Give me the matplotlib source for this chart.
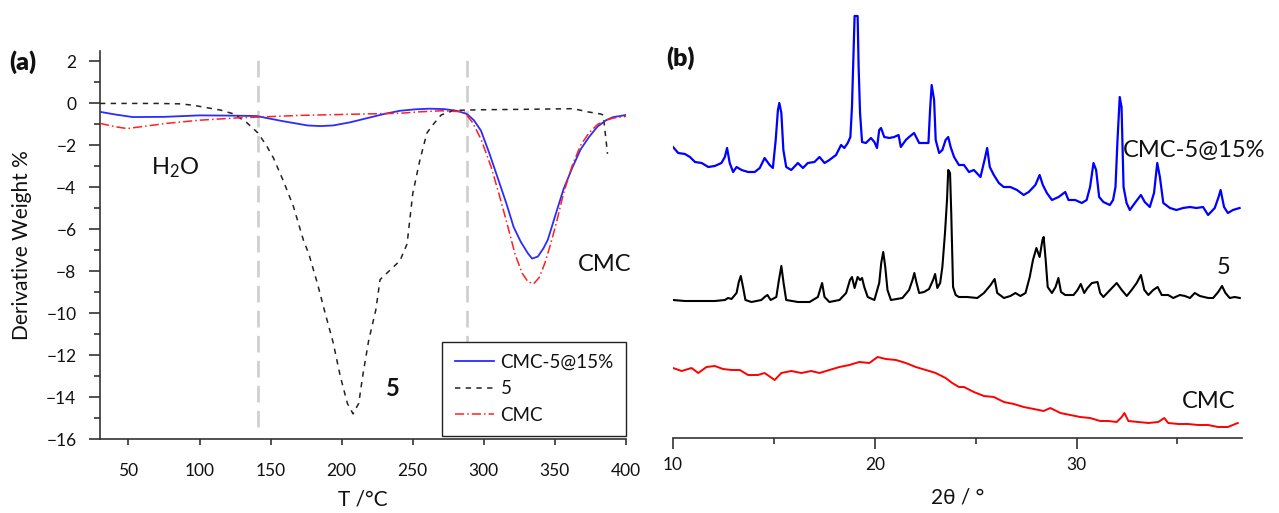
import matplotlib
matplotlib.use("Agg")
import matplotlib.pyplot as plt

plt.rcParams["font.family"] = ["Lato", "DejaVu Sans"]
plt.rcParams["mathtext.default"] = "regular"

############################
# Data
############################

# (a) DTG curves, T in degC, derivative weight in %
t_blue = [30, 40, 53, 75, 100, 120, 140, 159, 176, 185, 194, 206, 218, 230, 241,
          252, 262, 272, 281, 288, 293, 298, 304, 310, 316, 321, 326, 331, 334,
          338, 342, 345, 350, 356, 362, 368, 374, 380, 386, 391, 396, 400]
dtg_blue = [-0.40, -0.52, -0.65, -0.64, -0.57, -0.58, -0.60, -0.85, -1.05, -1.08,
            -1.05, -0.90, -0.70, -0.50, -0.35, -0.28, -0.25, -0.27, -0.35, -0.50,
            -0.80, -1.30, -2.4, -3.6, -4.8, -5.9, -6.6, -7.15, -7.4, -7.3, -6.9,
            -6.5, -5.4, -4.1, -3.1, -2.2, -1.6, -1.1, -0.8, -0.65, -0.6, -0.55]

t_black = [30, 50, 70, 86, 95, 105, 115, 124, 133, 141, 147, 152, 159, 166, 173,
           177, 183, 188, 194, 199, 204, 208, 212, 215, 219, 224, 227, 234, 241,
           246, 250, 255, 260, 265, 270, 279, 300, 330, 363, 373, 382, 384, 387]
dtg_black = [0, 0, 0, -0.02, -0.08, -0.2, -0.32, -0.5, -0.9, -1.4, -2.0, -2.6, -3.7,
             -4.9, -6.5, -7.2, -8.6, -9.9, -11.4, -13.0, -14.3, -14.8, -14.3, -12.9,
             -11.3, -9.85, -8.4, -7.95, -7.5, -6.7, -4.3, -2.7, -1.4, -0.95, -0.55,
             -0.33, -0.3, -0.28, -0.25, -0.4, -0.5, -0.55, -2.4]

t_red = [30, 40, 49, 60, 77, 100, 124, 141, 171, 218, 241, 255, 270, 286, 292, 298,
         305, 311, 317, 322, 327, 331, 335, 339, 343, 347, 351, 356, 362, 368, 374,
         380, 386, 391, 396, 400]
dtg_red = [-0.95, -1.1, -1.2, -1.1, -0.95, -0.8, -0.7, -0.65, -0.57, -0.5, -0.47,
           -0.4, -0.35, -0.4, -0.9, -1.7, -3.0, -4.4, -5.9, -7.2, -8.1, -8.5, -8.6,
           -8.3, -7.6, -6.7, -5.7, -4.3, -3.0, -2.0, -1.4, -1.0, -0.8, -0.7, -0.65, -0.62]

t_marks = [141, 288]

# (b) XRD patterns, 2theta in deg, intensity in a.u. (already offset)
tt_blue = [10.00, 10.26, 10.59, 10.84, 11.09, 11.42, 11.75, 12.07, 12.40, 12.57,
           12.68, 12.81, 12.98, 13.15, 13.40, 13.72, 14.05, 14.30, 14.54, 14.79,
           14.95, 15.09, 15.20, 15.27, 15.37, 15.47, 15.61, 15.86, 16.19, 16.44,
           16.68, 17.01, 17.26, 17.51, 17.75, 18.08, 18.33, 18.49, 18.66, 18.79,
           18.87, 18.94, 19.00, 19.15, 19.20, 19.27, 19.37, 19.56, 19.81, 19.98,
           20.11, 20.22, 20.31, 20.47, 20.72, 20.96, 21.18, 21.29, 21.54, 21.70,
           21.95, 22.20, 22.44, 22.66, 22.74, 22.82, 22.94, 23.02, 23.19, 23.35,
           23.51, 23.64, 23.76, 23.93, 24.17, 24.42, 24.67, 24.91, 25.24, 25.44,
           25.57, 25.70, 25.90, 26.15, 26.39, 26.72, 27.05, 27.38, 27.63, 27.96,
           28.17, 28.33, 28.53, 28.78, 29.11, 29.44, 29.60, 29.93, 30.26, 30.50,
           30.67, 30.84, 30.97, 31.12, 31.33, 31.65, 31.81, 31.93, 32.03, 32.14,
           32.23, 32.33, 32.48, 32.64, 32.89, 33.19, 33.38, 33.63, 33.84, 34.00,
           34.13, 34.30, 34.63, 34.95, 35.28, 35.62, 35.94, 36.27, 36.52, 36.85,
           37.04, 37.14, 37.31, 37.50, 37.75, 38.08]
int_blue = [291, 285, 284, 281, 276, 275, 271, 272, 275, 281, 290, 275, 266, 271,
            268, 266, 266, 270, 280, 273, 270, 298, 328, 335, 325, 288, 271, 268,
            275, 270, 275, 276, 281, 275, 278, 283, 293, 290, 295, 301, 331, 381,
            422, 422, 371, 325, 296, 295, 300, 296, 290, 308, 310, 301, 300, 301,
            303, 291, 298, 301, 305, 295, 295, 295, 328, 353, 338, 298, 285, 288,
            298, 301, 291, 281, 273, 273, 266, 268, 261, 278, 290, 271, 263, 255,
            251, 251, 248, 243, 246, 253, 263, 253, 245, 238, 241, 246, 238, 238,
            235, 238, 251, 275, 268, 241, 236, 233, 238, 251, 298, 341, 331, 251,
            235, 228, 235, 243, 236, 231, 245, 275, 261, 235, 230, 228, 230, 231,
            230, 231, 223, 230, 241, 248, 231, 225, 228, 230]

tt_black = [10.00, 10.59, 11.25, 12.07, 12.57, 12.73, 12.90, 13.15, 13.26, 13.36,
            13.47, 13.59, 13.89, 14.38, 14.54, 14.68, 14.84, 15.12, 15.25, 15.37,
            15.48, 15.61, 16.19, 16.77, 17.18, 17.39, 17.51, 17.75, 18.25, 18.58,
            18.77, 18.87, 19.00, 19.15, 19.27, 19.37, 19.48, 19.65, 19.98, 20.22,
            20.32, 20.42, 20.52, 20.63, 20.80, 21.37, 21.70, 21.87, 21.96, 22.06,
            22.20, 22.44, 22.69, 22.89, 22.99, 23.10, 23.24, 23.35, 23.48, 23.58,
            23.64, 23.73, 23.79, 23.88, 24.01, 24.17, 24.58, 25.08, 25.41, 25.74,
            25.94, 26.07, 26.40, 26.72, 26.97, 27.22, 27.47, 27.68, 27.84, 28.01,
            28.17, 28.31, 28.37, 28.47, 28.57, 28.78, 28.96, 29.10, 29.23, 29.44,
            29.85, 30.05, 30.21, 30.38, 30.54, 30.76, 31.04, 31.17, 31.33, 31.66,
            31.99, 32.24, 32.49, 32.73, 32.98, 33.19, 33.36, 33.56, 33.80, 34.02,
            34.22, 34.54, 34.79, 35.12, 35.37, 35.62, 35.86, 36.11, 36.53, 36.77,
            37.02, 37.21, 37.38, 37.59, 37.84, 38.09]
int_black = [138, 137, 137, 137, 138, 140, 139, 145, 156, 162, 151, 138, 136, 138,
             141, 143, 138, 141, 158, 172, 155, 138, 136, 136, 141, 155, 141, 136,
             138, 145, 158, 161, 150, 161, 158, 160, 151, 141, 138, 155, 175, 186,
             171, 148, 138, 140, 148, 158, 165, 156, 145, 146, 149, 158, 164, 150,
             155, 171, 205, 238, 268, 265, 225, 151, 143, 141, 141, 140, 145, 153,
             159, 145, 140, 142, 145, 142, 145, 161, 178, 190, 181, 198, 201, 178,
             151, 145, 151, 160, 146, 143, 143, 148, 154, 145, 150, 155, 156, 145,
             141, 148, 155, 148, 142, 148, 155, 163, 148, 143, 148, 151, 143, 143,
             140, 143, 142, 140, 145, 142, 140, 140, 146, 152, 145, 140, 141, 140]

tt_red = [10.00, 10.43, 10.92, 11.25, 11.66, 12.07, 12.48, 12.90, 13.31, 13.72,
          14.21, 14.54, 15.04, 15.37, 15.86, 16.36, 16.85, 17.26, 17.75, 18.25,
          18.74, 19.23, 19.73, 20.14, 20.55, 21.05, 21.54, 22.03, 22.53, 23.02,
          23.51, 23.84, 24.17, 24.42, 24.91, 25.41, 25.90, 26.40, 26.89, 27.38,
          27.88, 28.37, 28.70, 29.20, 29.69, 30.18, 30.67, 31.17, 31.58, 31.99,
          32.24, 32.37, 32.57, 33.06, 33.56, 34.05, 34.35, 34.54, 35.04, 35.53,
          36.02, 36.52, 37.01, 37.50, 37.99]
int_red = [70, 67, 70, 65, 71, 72, 69, 68, 68, 63, 63, 65, 58, 65, 67, 65, 67, 65,
           68, 71, 73, 76, 75, 81, 79, 78, 75, 71, 68, 65, 60, 55, 51, 51, 46, 42,
           41, 36, 34, 31, 29, 27, 30, 25, 23, 21, 20, 17, 17, 16, 21, 25, 17, 16,
           15, 16, 20, 15, 14, 14, 13, 13, 11, 11, 15]

############################
# Plot
############################

fig = plt.figure(figsize=(12.79, 5.13), dpi=100)
spine_col = "#333333"
txt_col = "#111111"

# ---- (a) ----
ax1 = fig.add_axes([100 / 1279, 1 - 439 / 513, 526 / 1279, 388 / 513])
ax1.plot(t_blue, dtg_blue, color="#2b2bff", lw=1.3, label="CMC-5@15%", zorder=3)
ax1.plot(t_black, dtg_black, color="#222222", lw=1.1, ls=(0, (3.5, 3.5)), label="5", zorder=3)
ax1.plot(t_red, dtg_red, color="#ff2020", lw=1.1, ls=(0, (6, 2, 1, 2)), label="CMC", zorder=3)
for t in t_marks:
    ax1.axvline(t, ymin=0.03, ymax=0.995, color="#d0d0d0", lw=2, dashes=(6, 3), zorder=1)

ax1.set_xlim(30, 400)
ax1.set_ylim(-16, 2.5)
ax1.set_xticks([50, 100, 150, 200, 250, 300, 350, 400])
ax1.set_yticks(range(-16, 3, 2))
ax1.set_yticks(range(-15, 3, 2), minor=True)
ax1.tick_params(axis="y", which="major", direction="out", length=8, width=1.2,
                pad=9, labelsize=12.5, colors=spine_col, labelcolor=txt_col)
ax1.tick_params(axis="y", which="minor", direction="out", length=4, width=1.2, colors=spine_col)
ax1.tick_params(axis="x", which="major", direction="out", length=4, width=1.2,
                pad=13, labelsize=12.5, colors=spine_col, labelcolor=txt_col)
for s in ["top", "right"]:
    ax1.spines[s].set_visible(False)
for s in ["left", "bottom"]:
    ax1.spines[s].set_color(spine_col)
    ax1.spines[s].set_linewidth(1.2)

ax1.set_xlabel("T /°C", fontsize=15, color=txt_col, labelpad=8)
ax1.set_ylabel("Derivative Weight %", fontsize=15, color=txt_col, labelpad=10)

ax1.text(66, -3.05, "H$_2$O", fontsize=17, color=txt_col, ha="left", va="center")
ax1.text(236, -13.6, "5", fontsize=17, fontweight="bold", color=txt_col, ha="center", va="center")
ax1.text(366, -7.7, "CMC", fontsize=17, color=txt_col, ha="left", va="center")

leg = ax1.legend(loc="lower right", bbox_to_anchor=(1.0, 0.008), borderaxespad=0,
                 fontsize=13.5, frameon=True, fancybox=False, edgecolor="#222222",
                 framealpha=1, handlelength=2.1, handletextpad=0.35,
                 labelspacing=0.5, borderpad=0.65)
leg.get_frame().set_linewidth(1.0)
for txt in leg.get_texts():
    txt.set_color(txt_col)

# ---- (b) ----
ax2 = fig.add_axes([673 / 1279, 1 - 438 / 513, 569 / 1279, 426 / 513])
ax2.plot(tt_blue, int_blue, color="#0000ff", lw=1.6)
ax2.plot(tt_black, int_black, color="#000000", lw=1.5)
ax2.plot(tt_red, int_red, color="#ff0000", lw=1.4)

ax2.set_xlim(10, 38.2)
ax2.set_ylim(0, 426)
ax2.set_xticks([10, 20, 30])
ax2.set_xticks([15, 25, 35], minor=True)
ax2.set_yticks([])
ax2.tick_params(axis="x", which="major", direction="out", length=8, width=1.2,
                pad=6, labelsize=12.5, colors=spine_col, labelcolor=txt_col)
ax2.tick_params(axis="x", which="minor", direction="out", length=4, width=1.2, colors=spine_col)
for s in ["top", "right", "left"]:
    ax2.spines[s].set_visible(False)
ax2.spines["bottom"].set_color(spine_col)
ax2.spines["bottom"].set_linewidth(1.2)
ax2.set_xlabel("2θ / °", fontsize=15, color=txt_col, labelpad=10)

ax2.text(32.3, 288, "CMC-5@15%", fontsize=17, color=txt_col, ha="left", va="center")
ax2.text(37.3, 171, "5", fontsize=17, color=txt_col, ha="center", va="center")
ax2.text(35.2, 36, "CMC", fontsize=17, color=txt_col, ha="left", va="center")

fig.text(9 / 1279, 1 - 62 / 513, "(a)", fontsize=18, fontweight="heavy", color=txt_col, va="center")
fig.text(666 / 1279, 1 - 58 / 513, "(b)", fontsize=18, fontweight="heavy", color=txt_col, va="center")

fig.savefig("out.png", dpi=100)
